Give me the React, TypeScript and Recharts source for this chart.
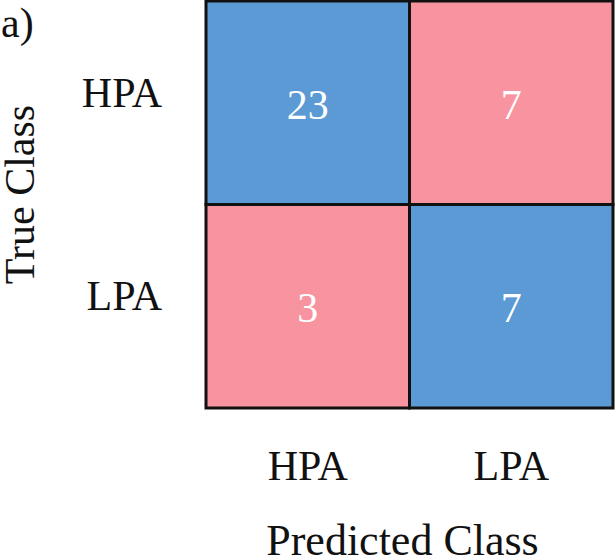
import React from 'react';
import { ScatterChart, Scatter, XAxis, YAxis, Label } from 'recharts';

const predictedClasses = ['HPA', 'LPA'];
const trueClasses = ['HPA', 'LPA'];
const countsHPA = [23, 7];
const countsLPA = [3, 7];
const panelTag = 'a)';

const W = 615;
const H = 558;
const margin = { top: 1, right: 2, bottom: 0, left: 0 };
const yAxisWidth = 206;
const xAxisHeight = 150;
const plotW = W - margin.left - margin.right - yAxisWidth;
const plotH = H - margin.top - margin.bottom - xAxisHeight;
const cellW = plotW / predictedClasses.length;
const cellH = plotH / trueClasses.length;

const FONT = '"Liberation Serif", "Times New Roman", serif';
const BLUE = '#5B9AD5';
const PINK = '#F7949F';

const rows = [countsHPA, countsLPA];
const cells = trueClasses.flatMap((t, r) =>
  predictedClasses.map((p, c) => ({
    x: c + 0.5,
    y: r + 0.5,
    value: rows[r][c],
    correct: t === p,
  }))
);

const CellShape = (props: any) => {
  const { cx, cy, payload } = props;
  return (
    <g>
      <rect
        x={cx - cellW / 2}
        y={cy - cellH / 2}
        width={cellW}
        height={cellH}
        fill={payload.correct ? BLUE : PINK}
        stroke="#111"
        strokeWidth={3}
      />
      <text x={cx} y={cy + 16} textAnchor="middle" fill="#fff" fontFamily={FONT} fontSize={42}>
        {payload.value}
      </text>
    </g>
  );
};

const XTick = (props: any) => {
  const { x, payload } = props;
  return (
    <text x={x} y={margin.top + plotH + 72} textAnchor="middle" fill="#111" fontFamily={FONT} fontSize={42}>
      {predictedClasses[Math.floor(payload.value)]}
    </text>
  );
};

const YTick = (props: any) => {
  const { y, payload } = props;
  return (
    <text x={yAxisWidth - 44} y={y + 4} textAnchor="end" fill="#111" fontFamily={FONT} fontSize={42}>
      {trueClasses[Math.floor(payload.value)]}
    </text>
  );
};

export default function App() {
  return (
    <div style={{ position: 'absolute', left: 0, top: 0, width: W, height: H, background: '#fff' }}>
      <div
        style={{
          position: 'absolute',
          left: 1,
          top: 2,
          fontFamily: FONT,
          fontSize: 42,
          color: '#111',
          lineHeight: 1,
        }}
      >
        {panelTag}
      </div>
      <ScatterChart width={W} height={H} margin={margin}>
        <XAxis
          type="number"
          dataKey="x"
          domain={[0, 2]}
          ticks={[0.5, 1.5]}
          axisLine={false}
          tickLine={false}
          height={xAxisHeight}
          tick={<XTick />}
        >
          <Label
            content={(p: any) => {
              const vb = p.viewBox;
              return (
                <text x={vb.x + vb.width / 2 - 7} y={vb.y + vb.height - 3} textAnchor="middle" fill="#111" fontFamily={FONT} fontSize={44}>
                  Predicted Class
                </text>
              );
            }}
          />
        </XAxis>
        <YAxis
          type="number"
          dataKey="y"
          domain={[0, 2]}
          ticks={[0.5, 1.5]}
          reversed
          axisLine={false}
          tickLine={false}
          width={yAxisWidth}
          tick={<YTick />}
        >
          <Label
            content={(p: any) => {
              const vb = p.viewBox;
              const cy = vb.y + vb.height / 2 - 10;
              return (
                <text x={34} y={cy} transform={`rotate(-90, 34, ${cy})`} textAnchor="middle" fill="#111" fontFamily={FONT} fontSize={42}>
                  True Class
                </text>
              );
            }}
          />
        </YAxis>
        <Scatter data={cells} shape={<CellShape />} isAnimationActive={false} />
      </ScatterChart>
    </div>
  );
}
